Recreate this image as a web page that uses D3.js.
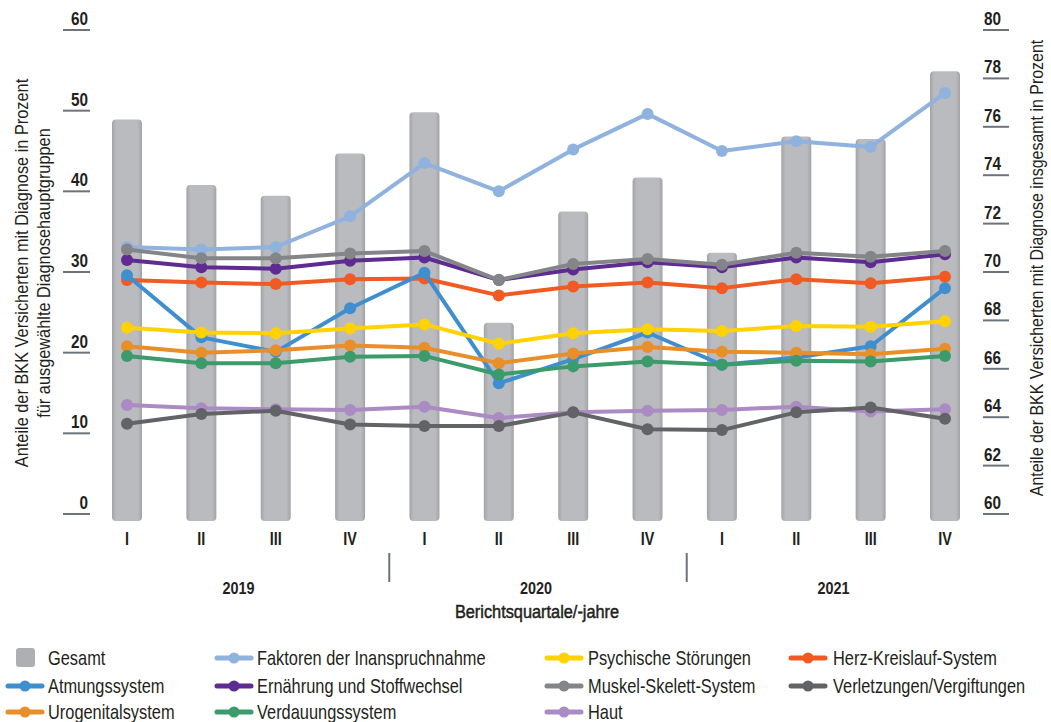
<!DOCTYPE html>
<html>
<head>
<meta charset="utf-8">
<script src="https://cdn.jsdelivr.net/npm/d3@7"></script>
<style>
  html, body { margin: 0; padding: 0; background: #fff; }
  svg text { font-family: "Liberation Sans", Arial, sans-serif; fill: #231f20; }
</style>
</head>
<body>
<svg id="chart" width="1051" height="722"></svg>
<script>
// Quarters and years
const quarters = ["I", "II", "III", "IV", "I", "II", "III", "IV", "I", "II", "III", "IV"];
const years = ["2019", "2020", "2021"];

// Share of insured persons with any diagnosis (right axis, bars)
const gesamt = [76.3, 73.6, 73.15, 74.9, 76.6, 67.9, 72.5, 73.9, 70.8, 75.6, 75.5, 78.3];

// Shares per diagnosis main group (left axis, lines)
const faktoren     = [33.1, 32.8, 33.1, 36.9, 43.5, 40.0, 45.2, 49.6, 45.0, 46.2, 45.5, 52.2];
const atmung       = [29.6, 21.9, 20.1, 25.5, 29.9, 16.2, 19.2, 22.5, 18.5, 19.4, 20.8, 28.0];
const ernaehrung   = [31.5, 30.6, 30.4, 31.4, 31.8, 29.0, 30.3, 31.2, 30.6, 31.8, 31.2, 32.2];
const muskel       = [32.8, 31.7, 31.7, 32.3, 32.6, 29.0, 31.0, 31.6, 30.9, 32.4, 31.9, 32.6];
const herz         = [29.0, 28.7, 28.5, 29.1, 29.2, 27.1, 28.2, 28.7, 28.0, 29.1, 28.6, 29.4];
const psychisch    = [23.1, 22.5, 22.4, 23.0, 23.5, 21.1, 22.4, 22.9, 22.7, 23.3, 23.2, 23.9];
const urogenital   = [20.8, 20.0, 20.3, 20.9, 20.6, 18.7, 19.9, 20.7, 20.1, 20.0, 19.8, 20.5];
const verdauung    = [19.6, 18.7, 18.7, 19.5, 19.6, 17.3, 18.3, 18.9, 18.5, 19.0, 18.9, 19.6];
const haut         = [13.5, 13.1, 13.0, 12.9, 13.3, 11.9, 12.6, 12.8, 12.9, 13.3, 12.7, 13.0];
const verletzungen = [11.2, 12.4, 12.8, 11.1, 10.9, 10.9, 12.6, 10.5, 10.4, 12.6, 13.2, 11.8];

// Axis ticks
const leftTicks = [0, 10, 20, 30, 40, 50, 60];
const rightTicks = [60, 62, 64, 66, 68, 70, 72, 74, 76, 78, 80];

const series = [
  { name: "Haut", values: haut, color: "#ab8bc3" },
  { name: "Verletzungen/Vergiftungen", values: verletzungen, color: "#626366" },
  { name: "Faktoren der Inanspruchnahme", values: faktoren, color: "#8fb2de" },
  { name: "Ernährung und Stoffwechsel", values: ernaehrung, color: "#5e2b90" },
  { name: "Muskel-Skelett-System", values: muskel, color: "#848588" },
  { name: "Herz-Kreislauf-System", values: herz, color: "#f15a22" },
  { name: "Atmungssystem", values: atmung, color: "#3f8fd0" },
  { name: "Psychische Störungen", values: psychisch, color: "#ffd200" },
  { name: "Urogenitalsystem", values: urogenital, color: "#e98f2a" },
  { name: "Verdauungssystem", values: verdauung, color: "#3b9b6a" }
];
const byName = Object.fromEntries(series.map(s => [s.name, s]));

const legendRows = [
  ["Gesamt", "Faktoren der Inanspruchnahme", "Psychische Störungen", "Herz-Kreislauf-System"],
  ["Atmungssystem", "Ernährung und Stoffwechsel", "Muskel-Skelett-System", "Verletzungen/Vergiftungen"],
  ["Urogenitalsystem", "Verdauungssystem", "Haut"]
];

const svg = d3.select("#chart");
const axisColor = "#6c737a";

// Condensed text: placed by a transform and narrowed horizontally by factor f
const place = (px, py, f, rot = 0) =>
  `translate(${px},${py})` + (rot ? ` rotate(${rot})` : "") + ` scale(${f},1)`;

const x = d3.scalePoint().domain(d3.range(quarters.length)).range([127, 945]);
const yL = d3.scaleLinear().domain([0, 60]).range([514, 30]);
const yR = d3.scaleLinear().domain([60, 80]).range([514, 30]);

// Bar shading: darker along the edges
const defs = svg.append("defs");
const grad = defs.append("linearGradient").attr("id", "barGrad").attr("x1", "0").attr("x2", "1").attr("y1", "0").attr("y2", "0");
grad.append("stop").attr("offset", "0%").attr("stop-color", "#a2a3a7");
grad.append("stop").attr("offset", "14%").attr("stop-color", "#babbbf");
grad.append("stop").attr("offset", "86%").attr("stop-color", "#babbbf");
grad.append("stop").attr("offset", "100%").attr("stop-color", "#a2a3a7");

const barW = 30;
svg.append("g").selectAll("rect").data(gesamt).join("rect")
  .attr("x", (d, i) => x(i) - barW / 2)
  .attr("y", d => yR(d))
  .attr("width", barW)
  .attr("height", d => yR(60) - yR(d) + 7)
  .attr("rx", 4)
  .attr("fill", "url(#barGrad)");

// Left axis
const gL = svg.append("g");
gL.selectAll("line").data(leftTicks).join("line")
  .attr("x1", 63).attr("x2", 90)
  .attr("y1", d => yL(d)).attr("y2", d => yL(d))
  .attr("stroke", axisColor).attr("stroke-width", 2);
gL.selectAll("text").data(leftTicks).join("text")
  .attr("transform", d => place(88, yL(d) - 5, 0.85))
  .attr("text-anchor", "end")
  .attr("font-size", 18).attr("font-weight", "bold")
  .text(d => d);

// Right axis
const gR = svg.append("g");
gR.selectAll("line").data(rightTicks).join("line")
  .attr("x1", 983).attr("x2", 1009)
  .attr("y1", d => yR(d)).attr("y2", d => yR(d))
  .attr("stroke", axisColor).attr("stroke-width", 2);
gR.selectAll("text").data(rightTicks).join("text")
  .attr("transform", d => place(984, yR(d) - 5, 0.85))
  .attr("text-anchor", "start")
  .attr("font-size", 18).attr("font-weight", "bold")
  .text(d => d);

// Axis titles
svg.append("text")
  .attr("transform", place(28, 273, 0.86, -90))
  .attr("text-anchor", "middle").attr("font-size", 19)
  .text("Anteile der BKK Versicherten mit Diagnose in Prozent");
svg.append("text")
  .attr("transform", place(50, 273, 0.86, -90))
  .attr("text-anchor", "middle").attr("font-size", 19)
  .text("für ausgewählte Diagnosehauptgruppen");
svg.append("text")
  .attr("transform", place(1043, 268, 0.84, -90))
  .attr("text-anchor", "middle").attr("font-size", 19)
  .text("Anteile der BKK Versicherten mit Diagnose insgesamt in Prozent");

// Lines with markers
const line = d3.line().x((d, i) => x(i)).y(d => yL(d));
const gLines = svg.append("g");
series.forEach(s => {
  const g = gLines.append("g");
  g.append("path").attr("d", line(s.values))
    .attr("fill", "none").attr("stroke", s.color)
    .attr("stroke-width", 4).attr("stroke-linejoin", "round");
  g.selectAll("circle").data(s.values).join("circle")
    .attr("cx", (d, i) => x(i)).attr("cy", d => yL(d))
    .attr("r", 6).attr("fill", s.color);
});

// Quarter labels
svg.append("g").selectAll("text").data(quarters).join("text")
  .attr("transform", (d, i) => place(x(i), 545, 0.8))
  .attr("text-anchor", "middle").attr("font-size", 18).attr("font-weight", "bold")
  .text(d => d);

// Year separators and labels
const step = x.step();
[4, 8].forEach(i => {
  svg.append("line")
    .attr("x1", x(i) - step / 2 + 2).attr("x2", x(i) - step / 2 + 2)
    .attr("y1", 553).attr("y2", 582)
    .attr("stroke", axisColor).attr("stroke-width", 2);
});
svg.append("g").selectAll("text").data(years).join("text")
  .attr("transform", (d, i) => place((x(i * 4) + x(i * 4 + 3)) / 2, 594, 0.9))
  .attr("text-anchor", "middle").attr("font-size", 16).attr("font-weight", "bold")
  .text(d => d);
svg.append("text")
  .attr("transform", place(537, 618, 0.86))
  .attr("text-anchor", "middle").attr("font-size", 19)
  .attr("stroke", "#231f20").attr("stroke-width", 0.5)
  .text("Berichtsquartale/-jahre");

// Legend
const colX = [{ m: 8, t: 48 }, { m: 217, t: 257 }, { m: 547, t: 588 }, { m: 791, t: 833 }];
const rowY = [658, 686, 712];
const gLeg = svg.append("g");
legendRows.forEach((row, r) => {
  row.forEach((name, c) => {
    const cx = colX[c], cy = rowY[r];
    if (name === "Gesamt") {
      gLeg.append("rect").attr("x", 16).attr("y", cy - 10).attr("width", 19).attr("height", 19)
        .attr("rx", 3).attr("fill", "#aeafb3");
    } else {
      const s = byName[name];
      gLeg.append("line").attr("x1", cx.m).attr("x2", cx.m + 34).attr("y1", cy).attr("y2", cy)
        .attr("stroke", s.color).attr("stroke-width", 5).attr("stroke-linecap", "round");
      gLeg.append("circle").attr("cx", cx.m + 17).attr("cy", cy).attr("r", 5.5).attr("fill", s.color);
    }
    gLeg.append("text").attr("transform", place(cx.t, cy + 7, 0.82))
      .attr("font-size", 20).text(name);
  });
});
</script>
</body>
</html>
